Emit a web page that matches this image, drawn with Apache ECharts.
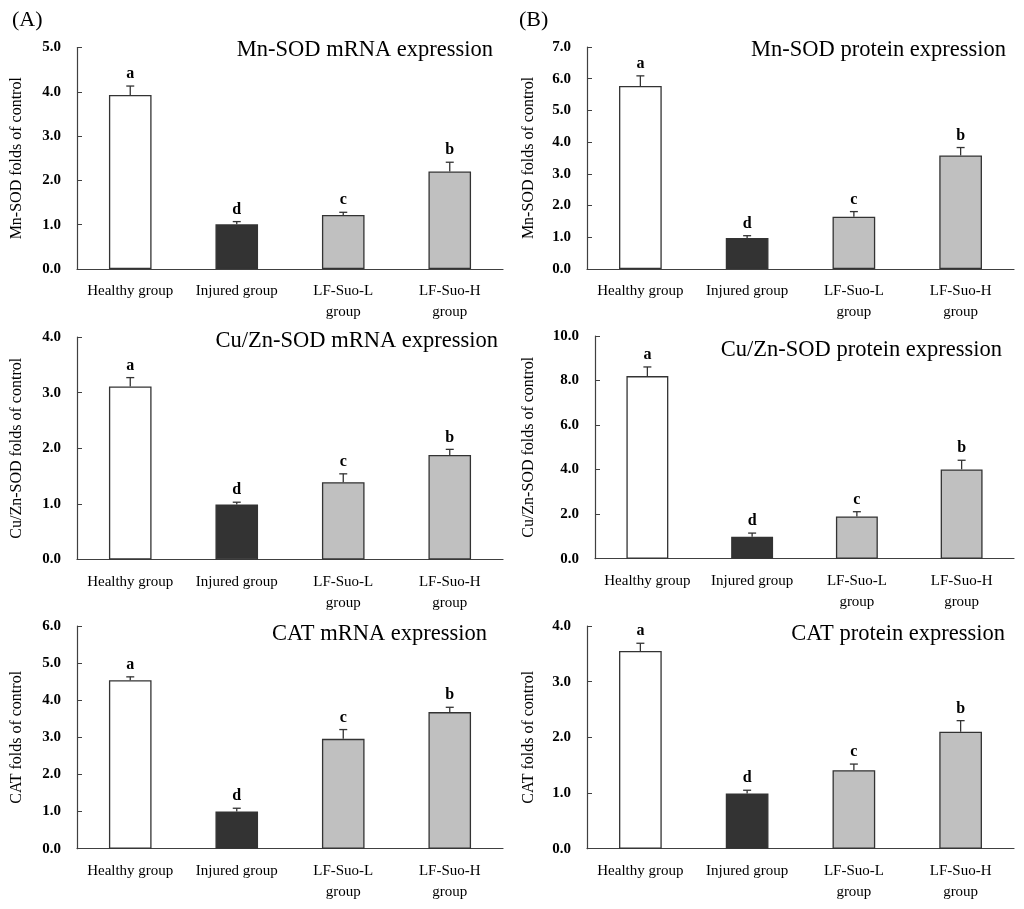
<!DOCTYPE html>
<html>
<head>
<meta charset="utf-8">
<script src="https://cdn.jsdelivr.net/npm/echarts@6/dist/echarts.min.js"></script>
<style>
html,body{margin:0;padding:0;background:#fff;}
#main{width:1024px;height:909px;}
</style>
</head>
<body>
<div id="main"></div>
<script>
// ---- data ----
const categories = ['Healthy group', 'Injured group', 'LF-Suo-L\ngroup', 'LF-Suo-H\ngroup'];
const letters = ['a', 'd', 'c', 'b'];

const mnSodMrnaMean = [3.93, 1.01, 1.22, 2.20];
const mnSodMrnaSd   = [0.20, 0.06, 0.06, 0.21];
const mnSodProtMean = [5.77, 0.98, 1.65, 3.58];
const mnSodProtSd   = [0.32, 0.07, 0.16, 0.25];
const cuZnMrnaMean  = [3.11, 0.99, 1.39, 1.88];
const cuZnMrnaSd    = [0.16, 0.04, 0.15, 0.10];
const cuZnProtMean  = [8.20, 0.99, 1.90, 4.01];
const cuZnProtSd    = [0.41, 0.16, 0.21, 0.41];
const catMrnaMean   = [4.54, 1.00, 2.96, 3.68];
const catMrnaSd     = [0.09, 0.09, 0.25, 0.13];
const catProtMean   = [3.55, 0.99, 1.41, 2.10];
const catProtSd     = [0.14, 0.06, 0.11, 0.20];

const panelTitles = ['Mn-SOD mRNA expression', 'Mn-SOD protein expression',
  'Cu/Zn-SOD mRNA expression', 'Cu/Zn-SOD protein expression',
  'CAT mRNA expression', 'CAT protein expression'];
const yNames = ['Mn-SOD folds of control', 'Mn-SOD folds of control',
  'Cu/Zn-SOD folds of control', 'Cu/Zn-SOD folds of control',
  'CAT folds of control', 'CAT folds of control'];
const yMax = [5, 7, 4, 10, 6, 4];
const yInterval = [1, 1, 1, 2, 1, 1];
const means = [mnSodMrnaMean, mnSodProtMean, cuZnMrnaMean, cuZnProtMean, catMrnaMean, catProtMean];
const sds = [mnSodMrnaSd, mnSodProtSd, cuZnMrnaSd, cuZnProtSd, catMrnaSd, catProtSd];

// ---- layout / style ----
const FONT = "'Liberation Serif', 'Times New Roman', serif";
const barColors = ['#ffffff', '#333333', '#c0c0c0', '#c0c0c0'];
const axisColor = '#404040';
const grids = [
  {left: 77, top: 47.5, width: 426, height: 221.5},
  {left: 587, top: 47, width: 427, height: 222},
  {left: 77, top: 337, width: 426, height: 222.5},
  {left: 595, top: 336, width: 419, height: 222.7},
  {left: 77, top: 626, width: 426, height: 222.7},
  {left: 587, top: 626, width: 427, height: 222.7}
];
const nameGaps = [52, 50, 52, 58, 52, 50];
const titlePos = [
  {right: 531, cy: 51}, {right: 18, cy: 51},
  {right: 526, cy: 342}, {right: 22, cy: 351},
  {right: 537, cy: 635}, {right: 19, cy: 635}
];

const option = {
  animation: false,
  backgroundColor: '#ffffff',
  title: titlePos.map((t, i) => ({
    text: panelTitles[i], right: t.right, top: t.cy - 12, padding: 0,
    textStyle: {fontFamily: FONT, fontSize: 22.5, fontWeight: 'normal', color: '#000'}
  })),
  graphic: [
    {type: 'text', left: 12, top: 9, style: {text: '(A)', font: '22px ' + FONT, fill: '#000'}},
    {type: 'text', left: 519, top: 9, style: {text: '(B)', font: '22px ' + FONT, fill: '#000'}}
  ],
  grid: grids,
  xAxis: grids.map((g, i) => ({
    type: 'category', gridIndex: i, data: categories,
    axisLine: {lineStyle: {color: axisColor, width: 1.2}},
    axisTick: {inside: true, length: 5, lineStyle: {color: axisColor}},
    axisLabel: {fontFamily: FONT, fontSize: 15, color: '#000', margin: 12, lineHeight: 21, interval: 0}
  })),
  yAxis: grids.map((g, i) => ({
    type: 'value', gridIndex: i, min: 0, max: yMax[i], interval: yInterval[i],
    name: yNames[i], nameLocation: 'middle', nameGap: nameGaps[i],
    nameTextStyle: {fontFamily: FONT, fontSize: 16, color: '#000'},
    splitLine: {show: false},
    axisLine: {show: true, lineStyle: {color: axisColor, width: 1.2}},
    axisTick: {show: true, inside: true, length: 5, lineStyle: {color: axisColor}},
    axisLabel: {fontFamily: FONT, fontSize: 15, fontWeight: 'bold', color: '#000', margin: 16,
      formatter: v => v.toFixed(1)}
  })),
  series: []
};

means.forEach((m, i) => {
  option.series.push({
    type: 'bar', xAxisIndex: i, yAxisIndex: i, barWidth: '40%',
    data: m.map((v, k) => ({value: v, itemStyle: {color: barColors[k], borderColor: '#333', borderWidth: 1.3}}))
  });
  const sd = sds[i];
  option.series.push({
    type: 'custom', xAxisIndex: i, yAxisIndex: i, z: 5,
    data: m.map((v, k) => [k, v, sd[k]]),
    renderItem: function (params, api) {
      const x = api.value(0), mv = api.value(1), e = api.value(2);
      const p0 = api.coord([x, mv]);
      const p1 = api.coord([x, mv + e]);
      const st = {stroke: '#333', lineWidth: 1.3};
      return {
        type: 'group',
        children: [
          {type: 'line', shape: {x1: p0[0], y1: p0[1], x2: p1[0], y2: p1[1]}, style: st},
          {type: 'line', shape: {x1: p1[0] - 4, y1: p1[1], x2: p1[0] + 4, y2: p1[1]}, style: st},
          {type: 'text', x: p1[0], y: p1[1] - 4,
            style: {text: letters[params.dataIndex], textAlign: 'center', textVerticalAlign: 'bottom',
              font: 'bold 16px ' + FONT, fill: '#000'}}
        ]
      };
    }
  });
});

const chart = echarts.init(document.getElementById('main'));
chart.setOption(option);
</script>
</body>
</html>
